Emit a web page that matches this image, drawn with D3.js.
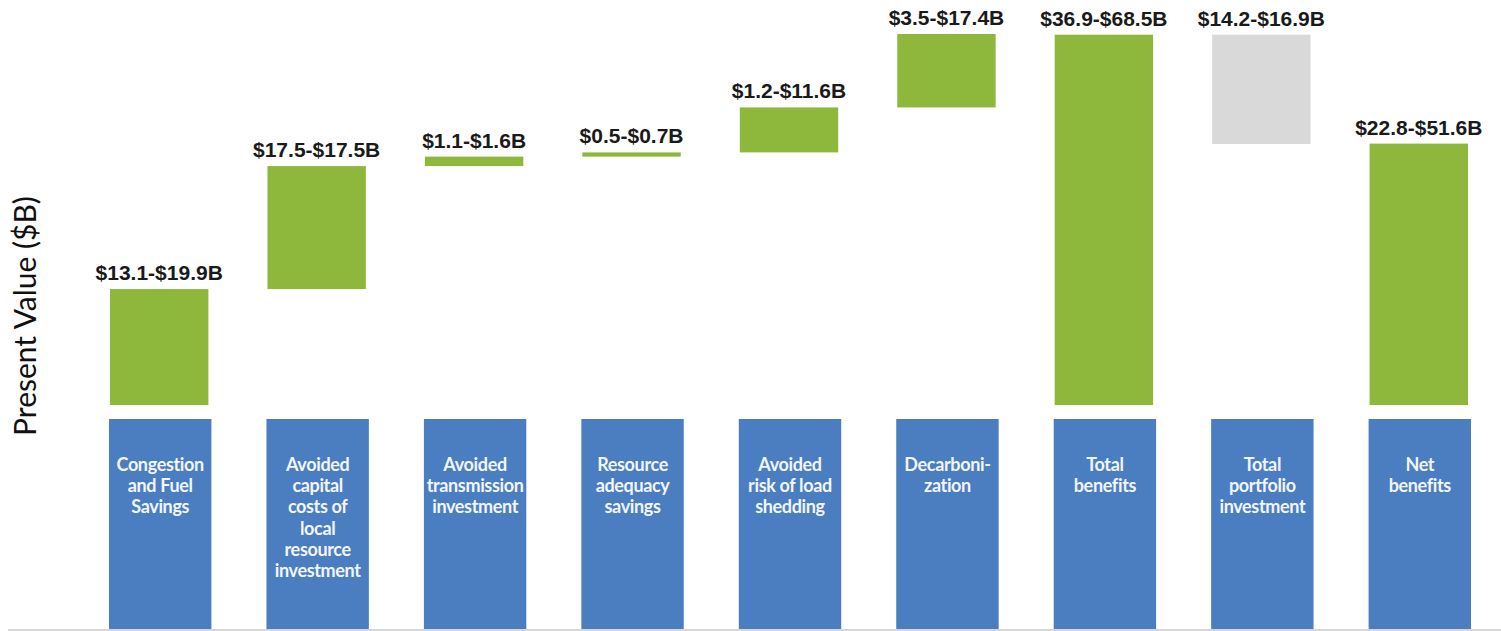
<!DOCTYPE html>
<html>
<head>
<meta charset="utf-8">
<script src="https://cdn.jsdelivr.net/npm/d3@7/dist/d3.min.js"></script>
<style>
  html, body { margin: 0; padding: 0; background: #ffffff; }
  svg { display: block; }
</style>
</head>
<body>
<svg id="chart" width="1501" height="631"></svg>
<script>
// Benefit categories (each entry is the wrapped label shown in its box)
const categories = [
  ["Congestion", "and Fuel", "Savings"],
  ["Avoided", "capital", "costs of", "local", "resource", "investment"],
  ["Avoided", "transmission", "investment"],
  ["Resource", "adequacy", "savings"],
  ["Avoided", "risk of load", "shedding"],
  ["Decarboni-", "zation"],
  ["Total", "benefits"],
  ["Total", "portfolio", "investment"],
  ["Net", "benefits"]
];
// Low and high ends of each present-value range ($B)
const lowValues  = [13.1, 17.5, 1.1, 0.5, 1.2, 3.5, 36.9, 14.2, 22.8];
const highValues = [19.9, 17.5, 1.6, 0.7, 11.6, 17.4, 68.5, 16.9, 51.6];
// Role of each step in the waterfall
const kinds = ["benefit", "benefit", "benefit", "benefit", "benefit", "benefit", "total", "cost", "net"];

const fmt = v => "$" + v.toFixed(1);
const colors = { benefit: "#8db83b", total: "#8db83b", net: "#8db83b", cost: "#d9d9d9" };

// Each bar is sized by the middle of its range; benefits stack, the
// total rises from zero, the investment drops from the total, net rises from zero.
let running = 0, totalTop = 0;
const steps = categories.map((c, i) => {
  const mid = (lowValues[i] + highValues[i]) / 2;
  let y0, y1;
  if (kinds[i] === "benefit") { y0 = running; y1 = running + mid; running = y1; }
  else if (kinds[i] === "total") { y0 = 0; y1 = mid; totalTop = mid; }
  else if (kinds[i] === "cost") { y0 = totalTop - mid; y1 = totalTop; }
  else { y0 = 0; y1 = mid; }
  return { i, lines: c, kind: kinds[i], y0, y1,
           label: fmt(lowValues[i]) + "-" + fmt(highValues[i]) + "B" };
});

const svg = d3.select("#chart");

const x = d3.scaleBand()
  .domain(d3.range(categories.length))
  .range([110, 1468])
  .paddingInner(0.375)
  .paddingOuter(0);

const y = d3.scaleLinear()
  .domain([0, d3.max(steps, d => d.y1)])
  .range([405, 34]);

// Floating bars
svg.append("g").selectAll("rect")
  .data(steps)
  .join("rect")
  .attr("x", d => x(d.i))
  .attr("width", x.bandwidth())
  .attr("y", d => y(d.y1))
  .attr("height", d => Math.max(2, y(d.y0) - y(d.y1)))
  .attr("fill", d => colors[d.kind]);

// Range labels above bars
svg.append("g").selectAll("text")
  .data(steps)
  .join("text")
  .attr("x", d => x(d.i) + x.bandwidth() / 2)
  .attr("y", d => y(d.y1) - 9)
  .attr("text-anchor", "middle")
  .attr("font-family", "'Liberation Sans', Arial, sans-serif")
  .attr("font-weight", "bold")
  .attr("font-size", 21)
  .attr("fill", "#1a1a1a")
  .text(d => d.label);

// Category boxes along the bottom
const boxes = svg.append("g").selectAll("g")
  .data(steps)
  .join("g");

boxes.append("rect")
  .attr("x", d => x(d.i) - 1)
  .attr("width", x.bandwidth() + 4)
  .attr("y", 419)
  .attr("height", 212)
  .attr("fill", "#4a7ec1");

boxes.append("text")
  .attr("text-anchor", "middle")
  .attr("font-family", "Lato, 'Open Sans', sans-serif")
  .attr("font-weight", "bold")
  .attr("font-size", 18)
  .attr("letter-spacing", -0.35)
  .attr("fill", "#f2f5fa")
  .selectAll("tspan")
  .data(d => d.lines.map((t, k) => ({ t, k, cx: x(d.i) + x.bandwidth() / 2 + 1 })))
  .join("tspan")
  .attr("x", t => t.cx)
  .attr("y", t => 471 + t.k * 21.2)
  .text(t => t.t);

// Bottom rule
svg.append("line")
  .attr("x1", 8).attr("x2", 1501)
  .attr("y1", 630).attr("y2", 630)
  .attr("stroke", "#d6d6d6")
  .attr("stroke-width", 2);

// Vertical axis title
svg.append("text")
  .attr("transform", "translate(36,316) rotate(-90)")
  .attr("text-anchor", "middle")
  .attr("font-family", "Lato, 'Open Sans', sans-serif")
  .attr("font-size", 30)
  .attr("fill", "#111")
  .text("Present Value ($B)");
</script>
</body>
</html>
